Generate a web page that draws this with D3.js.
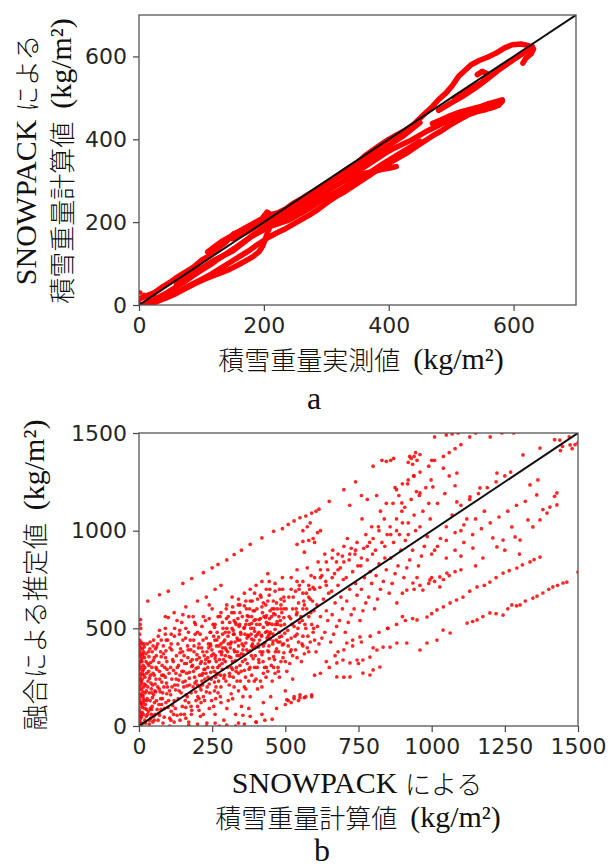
<!DOCTYPE html>
<html>
<head>
<meta charset="utf-8">
<script src="https://cdn.jsdelivr.net/npm/d3@7"></script>
<style>
  body { margin: 0; background: #fff; }
  .tick text { font-family: "DejaVu Sans"; font-size: 22px; fill: #262626; }
  .tick line { stroke: #444; stroke-width: 1.2; }
  .lab { fill: #111; }
  .lat { font-family: "Liberation Serif"; font-size: 30px; }
  .cjk { font-family: "Noto Sans CJK JP"; font-size: 26px; font-weight: 300; }
</style>
</head>
<body>
<svg id="fig" width="612" height="867"></svg>
<script>
// ---- panel a : measured vs SNOWPACK (tracks of daily values) ----
const aTicks = [0, 200, 400, 600]
const aTrack1 = [[0,14],[12,22],[25,30],[38,44],[50,55],[62,68],[75,80],[88,92],[100,108],[112,118],[125,135],[138,150],[148,165],[152,172],[162,176],[175,184],[188,196],[198,210],[205,224],[212,218],[222,222],[235,232],[248,246],[262,258],[275,270],[290,284],[305,298],[320,314],[335,330],[350,344],[362,360],[375,374],[388,388],[400,400],[412,410],[425,420],[440,436],[455,458],[468,476],[480,496],[492,512],[502,530],[512,552],[522,566],[532,580],[545,590],[558,598],[572,608],[585,620],[598,628],[612,630],[624,626],[632,618],[628,606],[620,596],[615,584]]
const aTrack2 = [[6,0],[18,8],[30,18],[45,30],[58,42],[72,55],[86,70],[100,84],[115,98],[128,112],[142,126],[156,140],[170,155],[184,170],[198,184],[212,196],[226,206],[240,218],[254,232],[268,246],[282,258],[296,270],[310,284],[324,296],[338,310],[352,324],[366,338],[380,352],[394,366],[408,378],[422,388],[436,398],[450,410],[464,422],[478,432],[492,442],[506,450],[520,458],[534,464],[548,472],[562,476],[576,482],[582,492]]
const aTrack3 = [[12,0],[26,6],[40,16],[55,26],[70,38],[85,50],[100,62],[115,74],[130,88],[145,102],[160,116],[175,130],[190,146],[204,160],[218,172],[232,182],[246,194],[260,206],[274,218],[288,232],[302,248],[316,262],[330,274],[344,288],[358,302],[372,316],[386,330],[400,342],[414,354],[428,366],[442,380],[456,394],[470,408],[484,420],[498,434],[512,446],[526,458],[540,466],[556,472],[570,478]]
const aTrack4 = [[30,10],[45,18],[60,28],[75,40],[90,52],[105,62],[118,70],[132,78],[145,86],[158,96],[170,106],[182,116],[192,128],[198,142],[202,158],[206,175],[210,190]]
const aTrack5 = [[250,222],[262,234],[275,246],[288,260],[300,274],[312,286],[325,296],[338,305],[350,312],[362,318],[375,322],[388,327],[400,330],[412,334]]
const aTrack6 = [[110,128],[122,142],[134,155],[146,165],[158,176],[170,186],[182,196],[194,206],[206,214],[218,220],[230,224]]
const aTrack7 = [[470,438],[485,448],[500,458],[515,466],[530,472],[545,478],[560,486],[575,492],[582,495]]
const aTrack8 = [[505,500],[518,512],[530,522],[540,530],[550,538],[556,548],[558,558],[550,564],[542,556]]
const aTrack9 = [[480,470],[500,488],[520,505],[540,525],[560,548],[575,566],[590,582],[600,592],[612,604],[622,614],[630,624]]
const aTrack10 = [[60,50],[90,80],[120,108],[150,130],[180,165],[210,190],[240,205],[270,230],[300,260],[330,285],[360,310],[390,340],[420,368],[450,395]]
const aTrack11 = [[150,160],[175,178],[200,200],[225,215],[250,240],[275,262],[300,290],[325,312],[350,335],[375,360],[400,385],[425,410],[450,440]]
const aDots = [[2,30],[5,20],[10,5],[15,15],[20,2],[25,20],[0,8],[8,25]]

// ---- panel b : SNOWPACK vs fused estimate ----
const bXTicks = [0, 250, 500, 750, 1000, 1250, 1500]
const bYTicks = [0, 500, 1000, 1500]
const bCloud = [[3,20],[8,45],[2,70],[12,95],[5,120],[15,140],[3,165],[9,190],[18,215],[4,240],[11,265],[2,290],[14,310],[7,335],[3,360],[16,380],[6,400],[10,420],[2,440],[5,545],[20,30],[15,60],[22,110],[25,180],[20,250],[24,330],[18,405],[6,500],[28,420],
  [35,10],[40,40],[32,75],[45,100],[38,130],[50,160],[42,190],[55,215],[36,245],[48,270],[58,300],[40,325],[52,350],[45,380],[60,405],[38,430],[55,60],[60,130],[58,240],[47,20],[33,280],[44,170],
  [65,30],[70,55],[75,85],[68,110],[80,140],[72,175],[85,200],[78,225],[90,250],[70,280],[88,300],[95,330],[76,355],[92,385],[83,410],[98,440],[66,460],[90,500],[100,555],[95,165],[82,15],[99,95],
  [105,40],[110,75],[115,105],[120,130],[108,160],[125,185],[132,210],[112,240],[140,260],[118,285],[135,310],[145,335],[128,360],[142,395],[110,420],[150,440],[138,470],[122,500],[146,530],[105,0],[130,55],[148,100],[150,225],[115,340],
  [155,60],[160,95],[170,120],[165,150],[178,170],[185,200],[158,230],[190,250],[172,275],[195,295],[162,320],[182,340],[198,365],[168,390],[188,410],[175,440],[192,470],[160,500],[185,560],[170,20],[195,130],[180,305],[200,210],
  [205,80],[212,120],[220,150],[230,175],[208,200],[240,215],[225,240],[215,260],[245,275],[235,300],[210,320],[228,340],[248,360],[218,380],[238,400],[205,420],[230,450],[245,480],[215,510],[240,550],[250,600],[232,15],[210,50],[248,130],[222,290],[240,330],
  [255,100],[262,140],[270,170],[280,200],[258,225],[290,245],[268,265],[285,290],[275,310],[295,330],[260,345],[282,365],[298,390],[265,410],[288,430],[272,455],[295,480],[258,505],[285,530],[270,560],[298,600],[290,30],[275,0],[262,250],[280,420],[300,500],
  [305,130],[315,165],[325,200],[335,230],[310,255],[340,270],[320,290],[345,310],[330,335],[308,355],[350,370],[325,390],[340,410],[315,430],[335,450],[348,470],[322,490],[342,510],[310,530],[338,550],[325,580],[345,620],[318,660],[340,15],[330,60],[350,100],[312,400],[332,520],
  [355,150],[365,190],[375,230],[385,260],[360,285],[395,300],[370,320],[390,345],[358,365],[380,385],[398,405],[365,425],[385,445],[372,465],[395,485],[360,505],[385,525],[398,545],[370,565],[390,590],[360,615],[380,640],[395,680],[400,20],[375,90],[355,55],[388,420],[368,540],[392,500],[378,600],
  [405,190],[415,230],[425,270],[435,300],[410,325],[445,345],[420,365],[440,385],[408,405],[430,425],[448,445],[418,465],[438,485],[425,505],[445,525],[410,545],[435,565],[448,590],[420,610],[440,640],[415,670],[435,700],[445,740],[425,120],[450,150],[410,480],[432,555],[442,460],
  [455,230],[465,270],[475,300],[485,330],[460,355],[495,375],[470,395],[490,415],[458,435],[480,455],[498,475],[465,495],[485,515],[472,535],[495,555],[460,575],[485,600],[470,630],[495,660],[480,700],[465,730],[490,760],[500,180],[478,560],[455,520],
  [505,280],[515,320],[525,360],[535,390],[510,410],[545,430],[520,450],[540,470],[508,490],[530,510],[548,530],[518,550],[538,570],[525,600],[545,630],[512,660],[535,690],[548,720],[520,760],[540,800],[505,135],[530,150],[550,160],[525,240],
  [555,330],[565,370],[575,400],[585,430],[560,460],[595,480],[570,500],[590,520],[558,540],[580,560],[598,590],[565,620],[585,650],[572,680],[595,710],[560,740],[588,770],[575,810],[565,145],[590,150],[600,260],
  [605,380],[615,420],[625,450],[635,480],[610,510],[645,540],[620,560],[640,590],[608,620],[630,650],[648,680],[618,710],[638,740],[625,770],[645,800],[612,840],[635,880],[650,300],[620,270],
  [655,430],[665,470],[675,510],[685,540],[660,570],[695,600],[670,630],[690,660],[658,690],[680,720],[698,750],[668,780],[688,810],[675,840],[695,870],[662,900],[700,250],[680,380],
  [705,480],[715,530],[725,570],[735,600],[710,640],[745,670],[720,700],[740,730],[708,760],[730,790],[748,820],[718,850],[738,880],[725,910],[745,940],[712,960],[750,320],[730,440],
  [755,540],[765,590],[775,630],[785,660],[760,700],[795,730],[770,760],[790,790],[758,820],[780,850],[798,880],[768,910],[788,940],[775,980],[795,1020],[762,1060],[800,400],
  [805,600],[815,650],[825,700],[835,740],[810,770],[845,800],[820,830],[840,860],[808,900],[830,940],[848,980],[818,1020],[838,1060],[825,1100],[845,1140],[812,1180],[850,500],
  [855,680],[865,730],[875,780],[885,820],[860,860],[895,900],[870,940],[890,980],[858,1020],[880,1060],[898,1100],[868,1140],[888,1180],[875,1220],[900,560],
  [905,760],[915,810],[925,850],[935,900],[910,950],[945,1000],[920,1040],[940,1080],[908,1120],[930,1160],[948,1200],[918,1240],[938,1280],
  [955,820],[965,870],[975,920],[985,970],[960,1020],[995,1060],[970,1100],[990,1140],[958,1180],[980,1220],[998,1260],
  [1010,900],[1030,960],[1050,1020],[1070,1080],[1020,1140],[1045,1190],[1080,1230],[1060,1280],[1040,1320],[1100,1000],[1120,1060]]
const bCloudDense = [[10,10],[14,155],[8,230],[20,300],[12,370],[26,85],[30,200],[34,355],[42,60],[46,145],[52,260],[56,395],[62,85],[64,200],[68,325],[74,140],[78,260],[84,370],[86,45],[92,120],[94,220],[96,290],[104,180],[108,300],[112,390],[118,60],[122,210],[126,270],[134,140],[136,235],[140,375],[144,170],[152,280],[154,360],[158,130],[164,205],[166,410],[172,245],[176,330],[178,100],[186,280],[188,380],[194,175],[196,230],[202,300],[206,350],[212,185],[214,400],[218,270],[224,130],[226,320],[232,380],[236,250],[242,170],[244,420],[252,300],[254,370],[258,180],[264,330],[266,440],[272,230],[276,380],[278,150],[284,320],[286,470],[292,260],[294,400],[302,300],[304,460],[308,210],[314,350],[318,500],[322,250],[328,430],[332,280],[336,380],[344,520],[346,230],[352,420],[354,330],[362,470],[364,250],[368,390],[374,560],[376,290],[382,500],[384,360],[392,440],[394,230],[402,520],[404,300],[412,440],[414,380],[422,580],[424,330],[432,480],[434,250],[444,410],[446,550],[452,310],[458,470],[462,600],[466,380],[474,520],[476,280],[482,430],[488,580],[492,350],[496,640]]
const bCloudDense2 = [[1,5],[4,35],[7,58],[1,82],[10,108],[3,130],[6,152],[13,175],[1,200],[8,222],[4,255],[12,280],[6,300],[1,322],[9,345],[4,372],[12,395],[1,410],[7,430],[16,262],[18,130],[2,470],[4,520],
  [22,15],[25,50],[28,140],[31,230],[34,310],[37,395],[43,85],[46,210],[49,335],[52,30],[57,175],[61,290],[64,420],[67,65],[71,240],[74,380],[77,110],[79,310],[24,370],[39,260],[53,120],[69,190],[76,440],
  [81,170],[84,260],[87,90],[91,350],[93,440],[97,200],[101,130],[103,270],[106,400],[109,30],[113,200],[117,330],[121,460],[124,90],[127,240],[131,300],[133,420],[137,180],[139,490],[143,60],[147,280],[149,380],[153,200],[156,320],[159,450],
  [161,160],[163,270],[167,350],[169,480],[173,210],[177,390],[179,60],[183,310],[187,440],[191,220],[193,520],[197,340],[201,150],[203,400],[207,260],[209,470],[213,330],[217,210],[219,440],[223,360],[227,540],[229,270],[233,200],[237,420],[239,330],[243,480],[247,240],[249,390],[253,520],[257,280],[259,440],
  [261,360],[263,200],[267,480],[269,300],[273,410],[277,560],[279,260],[283,380],[287,500],[289,340],[293,440],[297,230],[299,550],[303,380],[307,480],[309,270],[313,420],[317,580],[319,330],[323,470],[327,380],[329,530],[333,300],[337,440],[339,620],[343,360],[347,480],[349,280],[353,560],[357,410],[359,500],
  [363,340],[367,600],[369,450],[373,380],[377,520],[379,300],[383,470],[387,640],[389,400],[393,540],[397,360],[399,460],[403,600],[407,420],[409,340],[413,520],[417,660],[419,460],[423,380],[427,560],[429,300],[433,620],[437,450],[439,520],[443,380],[447,700],[449,480],[453,560],[457,420],[459,640],[463,340],[467,520],[469,440],[473,600],[477,380],[479,480],
  [483,540],[487,460],[491,700],[494,420],[497,520],[503,600],[507,440],[513,560],[517,380],[523,520],[527,660],[533,460],[537,600],[543,500],[547,700],[553,560],[557,420],[563,640],[567,520],[573,600],[577,460],[583,700],[587,580],[593,640],[597,500]]
const bCloudDense3 = [[0,15],[3,48],[0,95],[5,115],[0,140],[2,185],[6,210],[0,235],[3,270],[0,310],[5,330],[0,355],[3,385],[0,420],[9,15],[11,70],[14,120],[10,160],[16,200],[11,240],[15,290],[10,330],[13,360],[17,420],[20,90],[21,170],[23,210],[19,350],[26,270],[27,130],[29,60],[30,320],[32,380],[35,170],[36,30],[39,90],[41,220],[44,300],[48,410],[50,50],[54,180],[59,360],
  [205,140],[215,230],[225,290],[235,350],[245,410],[255,460],[265,270],[275,340],[285,400],[295,360],[305,420],[315,300],[325,470],[335,360],[345,440],[355,390],[365,520],[375,460],[385,410],[395,590],[405,470],[415,550],[425,410],[435,530],[445,470],[455,600],[465,570],[475,430],[485,650],[495,600],
  [305,560],[325,540],[345,580],[365,640],[385,560],[405,650],[425,630],[445,670],[465,690],[485,620],[260,520],[280,580],[300,620],[320,610],[340,650],[360,680],[380,700],[400,720],[420,740],[440,780],[200,480],[220,560],[240,620],[190,530],[170,560],[150,570],[130,540],[110,470],[90,470],[70,490],[50,440],
  [120,20],[140,30],[160,40],[180,80],[200,100],[220,60],[240,90],[260,60],[280,120],[300,90],[320,140],[340,180],[360,200],[380,150],[400,240],[420,200],[440,280],[460,300],[480,250],[500,330],[520,390],[540,350],[560,410],[580,380],[600,440],
  [520,700],[540,740],[560,680],[580,720],[600,760],[620,800],[640,720],[660,760],[680,800],[700,840],[720,880],[740,900],[760,860],[780,920],[800,960],[820,1000],[840,920],[860,980],[880,1000],[900,1040],[920,980],[700,920],[680,880],[660,860],[640,840],[620,760],[600,700],[580,660],[560,600],[540,580]]
const bUpperLeft = [[30,640],[70,672],[100,690],[150,730],[180,755],[220,785],[250,810],[270,827],[300,850],[325,878],[350,900],[380,930],[420,963],[460,997],[490,1010],[510,1032],[530,1050],[550,1066],[570,1075],[590,1090],[605,1100],[615,1110],[560,1000],[575,1020],[585,1040],[595,960],[610,990],[620,1000],[540,930],[560,945],[580,950],[600,940],[565,890],[90,560],[120,580],[160,610],[200,640],[230,660],[260,700],[280,720]]
const bTop = [[700,1210],[740,1250],[800,1330],[830,1360],[845,1355],[760,1180],[780,1160],[720,1130],[650,1150],[880,1210],[900,1240],[920,1260],[940,1280],[960,1300],[990,1330],[1010,1360],[1040,1380],[1060,1400],[1080,1420],[1100,1440],[1130,1480],[1150,1500],[920,1350],[930,1370],[940,1380],[950,1360],[935,1340],[960,1390],[945,1400],[925,1380],[870,1370],[860,1360],[1000,1360],[1010,1480],[1050,1490],[1090,1500],[1070,1495],[1240,1500],[1280,1500],[1200,1480],[1100,1130],[1130,1160],[1160,1190],[1190,1220],[1220,1250],[1250,1280],[1270,1300],[1420,1466],[1447,1432],[1470,1480],[1490,1440],[1500,1450],[1480,1420],[1440,1410],[1312,1388],[1370,1423],[1438,1464],[1473,1439],[1000,880],[1020,920],[1050,950],[1080,990],[1110,1030],[1150,1060],[1180,1100]]
const bBelowDiag = [[1165,1219],[1223,1295],[1086,1295],[1131,1173],[1086,1147],[1004,1224],[960,1193],[898,1142],[1336,1234],[1363,1260],[1359,1183],[1428,1193],[1404,1121],[1394,1090],[1428,1132],[1420,1176],[1380,1108],[1370,1055],[1346,1019],[1329,1055],[1302,952],[1274,1019],[1244,952],[1209,963],[1141,911],[1175,860],[1223,917],[1285,968],[1370,865],[1336,840],[1291,809],[1244,783],[1199,737],[1155,712],[1107,660],[1063,630],[1018,594],[984,558],[950,543],[936,732],[994,748],[1028,763],[970,696],[915,696],[881,630],[1028,712],[1052,783],[1449,732],[1414,712],[1380,681],[1346,655],[1302,620],[1274,620],[1244,568],[1199,579],[1155,543],[1121,527],[1063,476],[1039,491],[1018,440],[984,425],[960,389],[1500,788],[1462,737],[915,425],[881,425],[858,404],[834,404],[813,389],[789,353],[765,338],[745,338],[721,323],[697,338],[676,323],[823,302],[800,287],[721,251],[676,251],[765,271],[789,261],[710,425],[755,456],
  [1000,575],[1040,610],[1085,645],[1130,690],[1180,720],[1220,760],[1265,795],[1310,825],[1350,852],[1140,535],[1175,560],[1220,575],[1260,600],[1290,615],[1320,640],[1360,665],[1400,700],[1430,720],
  [900,680],[940,700],[960,720],[990,730],[1010,740],[1040,750],[1060,770],[1080,790],[1100,800],[1000,760],[950,760],
  [640,330],[670,360],[700,390],[730,410],[760,430],[790,460],[820,480],[850,500],[880,520],[910,540],[935,550],
  [1050,860],[1080,900],[1110,940],[1140,980],[1170,1010],[1200,1040],[1230,1070],[1260,1100],[1290,1130],[1320,1150],[1100,870],[1250,900],[1300,880],[1150,820]]
const bBottom = [[510,130],[530,140],[550,145],[570,150],[590,160],[520,120],[545,130],[170,5],[200,10],[230,0],[260,15],[300,5],[330,0],[360,10],[400,20],[430,30],[455,35],[380,50],[420,60],[470,90],[500,110]]

const svg = d3.select('#fig')

function panel(id, box, maxV, xTicks, yTicks) {
  const x = d3.scaleLinear().domain([0, maxV]).range([box.left, box.right])
  const y = d3.scaleLinear().domain([0, maxV]).range([box.bottom, box.top])
  const g = svg.append('g')

  g.append('clipPath').attr('id', id)
    .append('rect')
    .attr('x', box.left).attr('y', box.top)
    .attr('width', box.right - box.left).attr('height', box.bottom - box.top)

  const fmt = d3.format('d')
  const xa = g.append('g')
    .attr('transform', `translate(0,${box.bottom})`)
    .call(d3.axisBottom(x).tickValues(xTicks).tickFormat(fmt).tickSize(6).tickPadding(6))
  const ya = g.append('g')
    .attr('transform', `translate(${box.left},0)`)
    .call(d3.axisLeft(y).tickValues(yTicks).tickFormat(fmt).tickSize(6).tickPadding(6))
  xa.select('.domain').remove()
  ya.select('.domain').remove()

  const plot = g.append('g').attr('clip-path', `url(#${id})`)
  return { x, y, g, plot, box }
}

// panel a
const pa = panel('clipA', { left: 139, right: 576, top: 15, bottom: 305 }, 700, aTicks, aTicks)
const lineA = d3.line().x(d => pa.x(d[0])).y(d => pa.y(d[1]))
const aTracks = [aTrack1, aTrack2, aTrack3, aTrack4, aTrack5, aTrack6, aTrack7, aTrack8, aTrack9, aTrack10, aTrack11]
pa.plot.append('g').selectAll('path')
  .data(aTracks)
  .enter().append('path')
  .attr('d', lineA)
  .attr('fill', 'none')
  .attr('stroke', '#ff0000')
  .attr('stroke-width', 5.5)
  .attr('stroke-linejoin', 'round')
  .attr('stroke-linecap', 'round')
pa.plot.append('g').selectAll('circle')
  .data(aDots)
  .enter().append('circle')
  .attr('cx', d => pa.x(d[0])).attr('cy', d => pa.y(d[1])).attr('r', 2.2)
  .attr('fill', '#ff0000')

// panel b
const pb = panel('clipB', { left: 139, right: 578, top: 433, bottom: 726 }, 1500, bXTicks, bYTicks)
const bAll = [].concat(bCloud, bCloudDense, bCloudDense2, bCloudDense3, bUpperLeft, bTop, bBelowDiag, bBottom)
pb.plot.selectAll('circle')
  .data(bAll)
  .enter().append('circle')
  .attr('cx', d => pb.x(d[0])).attr('cy', d => pb.y(d[1])).attr('r', 1.85)
  .attr('fill', '#ff0000')
  .attr('opacity', 0.85)

// 1:1 line and frame on top
;[pa, pb].forEach(p => {
  const m = p.x.domain()[1]
  p.plot.append('line')
    .attr('x1', p.x(0)).attr('y1', p.y(0))
    .attr('x2', p.x(m)).attr('y2', p.y(m))
    .attr('stroke', '#111').attr('stroke-width', 2)
  p.g.append('rect')
    .attr('x', p.box.left).attr('y', p.box.top)
    .attr('width', p.box.right - p.box.left).attr('height', p.box.bottom - p.box.top)
    .attr('fill', 'none').attr('stroke', '#555').attr('stroke-width', 1.3)
})

// labels: Latin runs in a serif face, kana/kanji in the CJK face
function label(txt, x, y, rot, size) {
  const t = svg.append('text')
    .attr('class', 'lab')
    .attr('transform', `translate(${x},${y}) rotate(${rot || 0})`)
    .attr('text-anchor', 'middle')
    .attr('dominant-baseline', 'central')
  const runs = txt.match(/[\u3000-\u9fff]+|[^\u3000-\u9fff]+/g)
  runs.forEach((r, i) => {
    const cjk = /[\u3000-\u9fff]/.test(r)
    const s = t.append('tspan').attr('class', cjk ? 'cjk' : 'lat').text(r)
    if (!cjk && i > 0 && r.startsWith('(')) s.attr('dx', 13)
    if (size) s.style('font-size', size + 'px')
  })
}
label('積雪重量実測値(kg/m²)', 361, 358)
label('SNOWPACK による', 25, 160, -90)
label('積雪重量計算値(kg/m²)', 60, 161, -90)
label('a', 314, 398, 0, 32)

label('融合による推定値(kg/m²)', 33, 575, -90)
label('SNOWPACK による', 357, 782)
label('積雪重量計算値(kg/m²)', 358, 816)
label('b', 322, 850, 0, 32)
</script>
</body>
</html>
